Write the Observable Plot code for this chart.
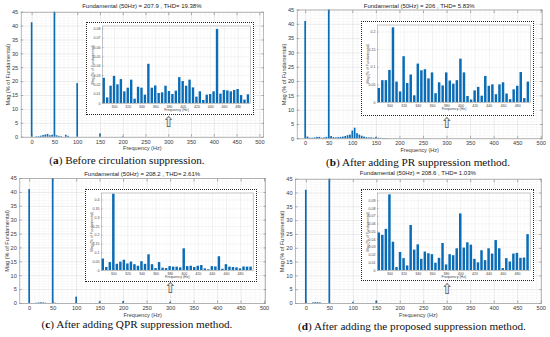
<!DOCTYPE html>
<html><head><meta charset="utf-8">
<script src="https://cdn.jsdelivr.net/npm/d3@7"></script>
<script src="https://cdn.jsdelivr.net/npm/@observablehq/plot@0.6"></script>
<style>
body{margin:0;background:#fff;}
#root{position:relative;width:550px;height:337px;overflow:hidden;font-family:"Liberation Sans",Arial,sans-serif;}
.abs{position:absolute;}
.title{font-size:6px;color:#222;white-space:nowrap;transform:translate(-50%,-50%);line-height:1;}
.cap{font-family:"Liberation Serif","DejaVu Serif",serif;font-size:11.2px;color:#111;white-space:nowrap;transform:translate(-50%,-50%);line-height:1;}
.box{box-sizing:border-box;border:1.3px dotted #222;}
</style></head><body><div id="root"></div><script>
// ---------- data ----------
const titles = [
  "Fundamental (50Hz) = 207.9 , THD= 19.38%",
  "Fundamental (50Hz) = 206 , THD= 5.83%",
  "Fundamental (50Hz) = 208.2 , THD= 2.61%",
  "Fundamental (50Hz) = 208.6 , THD= 1.03%"
];
const captionLetters = ["a", "b", "c", "d"];
const captionTexts = [
  " Before circulation suppression.",
  " After adding PR suppression method.",
  " After adding QPR suppression method.",
  " After adding the proposed suppression method."
];
const xLabel = "Frequency (Hz)";
const yLabel = "Mag (% of Fundamental)";

const mainXTicks = [0, 50, 100, 150, 200, 250, 300, 350, 400, 450, 500];
const mainYTicks = [0, 5, 10, 15, 20, 25, 30, 35, 40, 45];
const insetXTicks = [300, 320, 340, 360, 380, 400, 420, 440, 460, 480];
const insetYTicksA = [0, 0.01, 0.02, 0.03, 0.04, 0.05, 0.06, 0.07, 0.08];
const insetYTicksB = [0, 0.05, 0.1, 0.15, 0.2];
const insetYTicksC = [0, 0.05, 0.1, 0.15, 0.2, 0.25, 0.3, 0.35, 0.4];
const insetYTicksD = [0, 0.01, 0.02, 0.03, 0.04, 0.05, 0.06, 0.07, 0.08, 0.09];
const arrowFreq = 300;

// main spectra (Hz, % of fundamental)
const mainFreqA = [0, 10, 15, 20, 25, 30, 35, 40, 45, 50, 55, 60, 65, 75, 80, 100, 150, 200];
const mainMagA  = [41.2, 0.15, 0.2, 0.35, 0.6, 0.8, 1.0, 0.5, 0.7, 100, 0.5, 0.3, 0.2, 0.7, 0.3, 19.3, 1.2, 0.15];
const mainFreqB = [0, 5, 10, 15, 20, 25, 30, 35, 40, 45, 50, 55, 60, 65, 70, 75, 80, 85, 90, 95, 100, 105, 110, 115, 120, 125, 130, 135, 140, 145, 150, 155, 160, 165, 170, 175];
const mainMagB  = [41, 0.6, 0.2, 0.2, 0.3, 0.5, 0.5, 0.2, 0.3, 0.5, 100, 0.8, 0.4, 0.3, 0.4, 0.5, 0.6, 0.8, 1.1, 1.3, 2.7, 3.7, 1.8, 1.3, 0.9, 0.6, 0.4, 0.3, 0.3, 0.2, 0.4, 0.2, 0.15, 0.1, 0.1, 0.1];
const mainFreqC = [0, 15, 20, 25, 30, 35, 50, 55, 100, 150, 200, 300];
const mainMagC  = [41, 0.1, 0.2, 0.25, 0.2, 0.1, 100, 0.1, 2.3, 0.6, 0.7, 0.43];
const mainFreqD = [0, 15, 20, 25, 30, 50, 100, 150];
const mainMagD  = [41, 0.2, 0.3, 0.3, 0.2, 100, 0.3, 0.9];

// zoomed spectra 285..495 Hz
const insetFreq = [285, 290, 295, 300, 305, 310, 315, 320, 325, 330, 335, 340, 345, 350, 355, 360, 365, 370, 375, 380, 385, 390, 395, 400, 405, 410, 415, 420, 425, 430, 435, 440, 445, 450, 455, 460, 465, 470, 475, 480, 485, 490, 495];
const insetMagA = [0.027, 0.006, 0.0185, 0.029, 0.020, 0.0256, 0.0125, 0.0164, 0.025, 0.0046, 0.0174, 0.0164, 0.0089, 0.042, 0.0164, 0.0188, 0.0107, 0.0114, 0.0185, 0.0128, 0.0096, 0.0132, 0.0277, 0.0235, 0.0185, 0.025, 0.0167, 0.0068, 0.0125, 0.0032, 0.0089, 0.0096, 0.0125, 0.0793, 0.010, 0.0139, 0.0135, 0.0125, 0.0139, 0.015, 0.0085, 0.0036, 0.0093];
const insetMagB = [0.040, 0.062, 0.062, 0.091, 0.212, 0.058, 0.030, 0.130, 0.054, 0.078, 0.019, 0.109, 0.090, 0.093, 0.067, 0.084, 0.025, 0.056, 0.047, 0.084, 0.061, 0.052, 0.062, 0.123, 0.084, 0.017, 0.007, 0.033, 0.043, 0.018, 0.074, 0.046, 0.050, 0.022, 0.050, 0.056, 0.024, 0.008, 0.036, 0.046, 0.085, 0.011, 0.058];
const insetMagC = [0.065, 0.017, 0.045, 0.433, 0.035, 0.047, 0.058, 0.037, 0.048, 0.033, 0.024, 0.050, 0.035, 0.089, 0.033, 0.011, 0.045, 0.013, 0.011, 0.022, 0.019, 0.019, 0.015, 0.123, 0.022, 0.024, 0.017, 0.024, 0.028, 0.009, 0.004, 0.022, 0.020, 0.078, 0.007, 0.033, 0.019, 0.017, 0.015, 0.009, 0.020, 0.019, 0.019];
const insetMagD = [0.0484, 0.0454, 0.0531, 0.0976, 0.0365, 0.0038, 0.0233, 0.0153, 0.0059, 0.0581, 0.0263, 0.0331, 0.0144, 0.0238, 0.0216, 0.0204, 0.0093, 0.0157, 0.0348, 0.0072, 0.0204, 0.0191, 0.028, 0.073, 0.0289, 0.0357, 0.0327, 0.0144, 0.0098, 0.0255, 0.0127, 0.028, 0.0212, 0.0386, 0.028, 0.0025, 0.0153, 0.011, 0.0212, 0.0221, 0.0157, 0.0161, 0.0463];

// ---------- layout ----------
const barColor = "#0a6cb6";
const panels = [
  {ox:0,   oy:0,   freq:mainFreqA, mag:mainMagA, inset:insetMagA, iyTicks:insetYTicksA, iyMax:0.083,
   plot:[20.7,11.7,263,136.7], xdom:[-24,508], box:[86,22.3,254,115], titleY:6, capX:127, capY:161, arrowDy:-10.5},
  {ox:275, oy:0,   freq:mainFreqB, mag:mainMagB, inset:insetMagB, iyTicks:insetYTicksB, iyMax:0.22,
   plot:[296.7,9.5,541.7,138.3], xdom:[-18,502], box:[361,20.7,534,116], titleY:5.7, capX:418, capY:163, arrowDy:-11},
  {ox:0,   oy:168, freq:mainFreqC, mag:mainMagC, inset:insetMagC, iyTicks:insetYTicksC, iyMax:0.44,
   plot:[19.3,178,265,303], xdom:[-21,502], box:[85,188.7,256.7,282.3], titleY:173.7, capX:137, capY:325, arrowDy:-11},
  {ox:275, oy:168, freq:mainFreqD, mag:mainMagD, inset:insetMagD, iyTicks:insetYTicksD, iyMax:0.1,
   plot:[295,178.7,540.7,303], xdom:[-23,500], box:[361,188.7,533.7,281.3], titleY:173, capX:412, capY:327, arrowDy:-10}
];

const root = document.getElementById("root");
function place(el, x, y) {
  el.style.position = "absolute"; el.style.left = x + "px"; el.style.top = y + "px";
  root.appendChild(el); return el;
}
const fmt = d => String(+d.toFixed(3));

function mainChart(p) {
  const [l,t,r,b] = p.plot;
  const W = 275, H = 168;
  const rows = p.freq.map((f,i) => ({f, m: p.mag[i]}));
  return Plot.plot({
    width: W, height: H,
    marginLeft: l - p.ox, marginTop: t - p.oy, marginRight: p.ox + W - r, marginBottom: p.oy + H - b,
    x: {domain: p.xdom},
    y: {domain: [0, 45], clamp: true},
    style: {fontFamily: "'Liberation Sans', Arial, sans-serif", fontSize: "5.6px", color: "#3a3a3a", background: "transparent", overflow: "visible"},
    marks: [
      Plot.gridX(d3.range(0, 501, 10), {stroke: "#000", strokeOpacity: 0.05, strokeWidth: 0.5}),
      Plot.gridY(d3.range(0, 46, 1), {stroke: "#000", strokeOpacity: 0.05, strokeWidth: 0.5}),
      Plot.gridX(mainXTicks, {stroke: "#000", strokeOpacity: 0.12, strokeWidth: 0.5}),
      Plot.gridY(mainYTicks, {stroke: "#000", strokeOpacity: 0.12, strokeWidth: 0.5}),
      Plot.rectY(rows, {x1: d => d.f - 1.8, x2: d => d.f + 1.8, y: "m", fill: barColor}),
      Plot.text([arrowFreq], {x: d => d, frameAnchor: "bottom", dy: p.arrowDy, text: () => "\u21E7", fontSize: 15, fill: "#555", fontFamily: "DejaVu Sans"}),
      Plot.axisX(mainXTicks, {tickSize: 0, tickPadding: 2.5, tickFormat: fmt, label: xLabel, labelAnchor: "center", labelOffset: 13, labelArrow: "none"}),
      Plot.axisX(mainXTicks, {tickSize: -2.5, tickFormat: () => "", label: null, stroke: "#666", strokeWidth: 0.5}),
      Plot.axisX(mainXTicks, {anchor: "top", tickSize: -2.5, tickFormat: () => "", label: null, stroke: "#666", strokeWidth: 0.5}),
      Plot.axisY(mainYTicks, {tickSize: 0, tickPadding: 3, tickFormat: fmt, label: yLabel, labelAnchor: "center", labelOffset: 15, labelArrow: "none"}),
      Plot.axisY(mainYTicks, {tickSize: -2.5, tickFormat: () => "", label: null, stroke: "#666", strokeWidth: 0.5}),
      Plot.axisY(mainYTicks, {anchor: "right", tickSize: -2.5, tickFormat: () => "", label: null, stroke: "#666", strokeWidth: 0.5}),
      Plot.frame({stroke: "#8c8c8c", strokeWidth: 0.6})
    ]
  });
}

function insetChart(p) {
  const [bl, bt, br, bb] = p.box;
  const W = br - bl, H = bb - bt;
  const rows = insetFreq.map((f,i) => ({f, m: p.inset[i]}));
  return Plot.plot({
    width: W, height: H,
    marginLeft: 16, marginRight: 4, marginTop: 3.5, marginBottom: H - 81,
    x: {domain: [282.5, 498]},
    y: {domain: [0, p.iyMax]},
    style: {fontFamily: "'Liberation Sans', Arial, sans-serif", fontSize: "3.6px", color: "#444", background: "#fff", overflow: "visible"},
    marks: [
      Plot.gridX(d3.range(285, 500, 5), {stroke: "#000", strokeOpacity: 0.05, strokeWidth: 0.4}),
      Plot.gridX(insetXTicks, {stroke: "#000", strokeOpacity: 0.1, strokeWidth: 0.4}),
      Plot.gridY(p.iyTicks, {stroke: "#000", strokeOpacity: 0.1, strokeWidth: 0.4}),
      Plot.rectY(rows, {x1: d => d.f - 1.75, x2: d => d.f + 1.75, y: "m", fill: barColor}),
      Plot.axisX(insetXTicks, {tickSize: 0, tickPadding: 1.5, tickFormat: fmt, label: xLabel, labelAnchor: "center", labelOffset: 7.5, labelArrow: "none"}),
      Plot.axisX(insetXTicks, {tickSize: -1.5, tickFormat: () => "", label: null, stroke: "#666", strokeWidth: 0.4}),
      Plot.axisY(p.iyTicks, {tickSize: 0, tickPadding: 2, tickFormat: fmt, label: yLabel, labelAnchor: "center", labelOffset: 11, labelArrow: "none"}),
      Plot.axisY(p.iyTicks, {tickSize: -1.5, tickFormat: () => "", label: null, stroke: "#666", strokeWidth: 0.4}),
      Plot.frame({stroke: "#8c8c8c", strokeWidth: 0.5})
    ]
  });
}

panels.forEach((p, i) => {
  place(mainChart(p), p.ox, p.oy);
  const [bl, bt, br, bb] = p.box;
  place(insetChart(p), bl, bt);
  const box = document.createElement("div");
  box.className = "box";
  box.style.width = (br - bl) + "px"; box.style.height = (bb - bt) + "px";
  place(box, bl, bt);
  const t = document.createElement("div");
  t.className = "title"; t.textContent = titles[i];
  place(t, (p.plot[0] + p.plot[2]) / 2, p.titleY);
  const c = document.createElement("div");
  c.className = "cap";
  c.innerHTML = "(<b>" + captionLetters[i] + "</b>)" + captionTexts[i];
  place(c, p.capX, p.capY);
});
</script></body></html>
